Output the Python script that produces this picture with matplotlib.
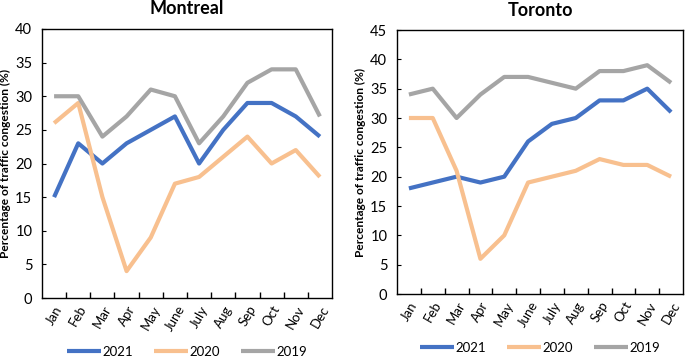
import matplotlib
matplotlib.use("Agg")
import matplotlib.pyplot as plt
from matplotlib.ticker import FixedLocator

plt.rcParams['font.family'] = ['Lato', 'DejaVu Sans']

months = ["Jan", "Feb", "Mar", "Apr", "May", "June", "July", "Aug", "Sep", "Oct", "Nov", "Dec"]
years = ["2021", "2020", "2019"]

mtl_2021 = [15, 23, 20, 23, 25, 27, 20, 25, 29, 29, 27, 24]
mtl_2020 = [26, 29, 15, 4, 9, 17, 18, 21, 24, 20, 22, 18]
mtl_2019 = [30, 30, 24, 27, 31, 30, 23, 27, 32, 34, 34, 27]

tor_2021 = [18, 19, 20, 19, 20, 26, 29, 30, 33, 33, 35, 31]
tor_2020 = [30, 30, 21, 6, 10, 19, 20, 21, 23, 22, 22, 20]
tor_2019 = [34, 35, 30, 34, 37, 37, 36, 35, 38, 38, 39, 36]

colors = ["#4472C4", "#F8C08F", "#A5A5A5"]

W, H = 685, 358
fig = plt.figure(figsize=(W / 100, H / 100), dpi=100)


def make(ax_px, title, series, ymax, title_y, label_x):
    l, r, t, b = ax_px
    ax = fig.add_axes([l / W, 1 - b / H, (r - l) / W, (b - t) / H])
    x = list(range(len(months)))
    for s, c, lab in zip(series, colors, years):
        ax.plot(x, s, color=c, lw=3, label=lab, solid_capstyle='butt')
    ax.set_xlim(-0.5, len(months) - 0.5)
    ax.set_ylim(0, ymax)
    ax.set_yticks(range(0, ymax + 1, 5))
    ax.set_xticks(x)
    ax.set_xticklabels(months, rotation=60, fontsize=9.5, ha='center', va='top')
    ax.xaxis.set_minor_locator(FixedLocator([i + 0.5 for i in range(len(months) - 1)]))
    ax.tick_params(axis='x', which='major', length=0, pad=4)
    ax.tick_params(axis='x', which='minor', direction='in', length=4, width=1)
    ax.tick_params(axis='y', direction='in', length=3, labelsize=10.5, pad=7)
    for sp in ax.spines.values():
        sp.set_linewidth(1.0)
        sp.set_color('black')
    ax.set_ylabel("Percentage of traffic congestion (%)", fontsize=8.6, fontweight='bold')
    ax.yaxis.set_label_coords((label_x - l) / (r - l), 0.5)
    fig.text((l + r) / 2 / W, 1 - title_y / H, title, fontsize=13, fontweight='bold',
             ha='center', va='center')
    return ax


ax1 = make((42, 332, 29, 298), "Montreal", [mtl_2021, mtl_2020, mtl_2019], 40, 8, 11)
ax2 = make((397, 683, 30, 294), "Toronto", [tor_2021, tor_2020, tor_2019], 45, 10, 366)

for ax, ly in ((ax1, 352), (ax2, 348)):
    pos = ax.get_position()
    ax.legend(loc='center', bbox_to_anchor=((pos.x0 + pos.x1) / 2, 1 - ly / H),
              bbox_transform=fig.transFigure, ncol=3, frameon=False, fontsize=9.5,
              handlelength=2.6, handletextpad=0.1, columnspacing=1.6)

fig.savefig("out.png", dpi=100)
